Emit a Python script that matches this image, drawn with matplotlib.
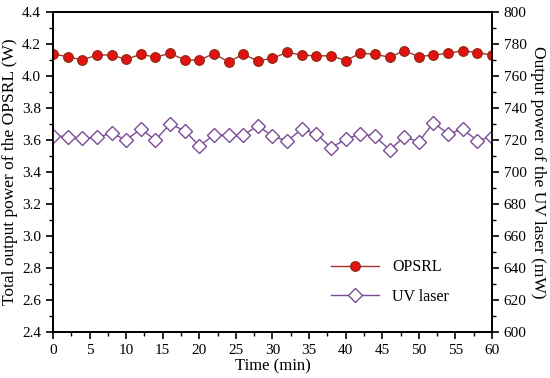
import numpy as np
import matplotlib
matplotlib.use("Agg")
import matplotlib.pyplot as plt
from matplotlib.ticker import MultipleLocator

plt.rcParams['font.family'] = ['Liberation Serif', 'DejaVu Serif']

# time in minutes
time_min = np.arange(0, 61, 2)

# OPSRL total output power (W)
opsrl_w = [4.137, 4.121, 4.100, 4.131, 4.131, 4.104, 4.136, 4.117, 4.142, 4.100,
           4.100, 4.139, 4.088, 4.136, 4.094, 4.111, 4.148, 4.131, 4.125, 4.127,
           4.096, 4.142, 4.136, 4.117, 4.158, 4.121, 4.131, 4.142, 4.158, 4.146,
           4.131]

# UV laser output power (mW)
uv_mw = [722.5, 722.1, 721.1, 721.7, 724.2, 720.0, 726.9, 720.0, 730.0, 725.8,
         716.3, 723.1, 723.1, 723.1, 728.8, 722.5, 719.4, 726.7, 723.8, 715.2,
         720.4, 723.8, 722.5, 713.8, 721.9, 718.9, 730.8, 723.8, 726.7, 719.6,
         722.1]

fig = plt.figure(figsize=(5.5, 3.78), dpi=100)
ax = fig.add_axes([0.0964, 0.1217, 0.7981, 0.8466])
ax2 = ax.twinx()

l1, = ax.plot(time_min, opsrl_w, '-o', color='#a8322a', lw=1.0,
              markersize=7, markerfacecolor='#e01212', markeredgecolor='#8a2a10',
              markeredgewidth=0.8, label='OPSRL', zorder=3)
l2, = ax2.plot(time_min, uv_mw, '-D', color='#7a4c96', lw=1.0,
               markersize=7, markerfacecolor='white', markeredgecolor='#7a4c96',
               markeredgewidth=1.0, label='UV laser')

ax.set_xlim(0, 60)
ax.set_ylim(2.4, 4.4)
ax2.set_ylim(600, 800)

ax.xaxis.set_major_locator(MultipleLocator(5))
ax.xaxis.set_minor_locator(MultipleLocator(2.5))
ax.yaxis.set_major_locator(MultipleLocator(0.2))
ax.yaxis.set_minor_locator(MultipleLocator(0.1))
ax2.yaxis.set_major_locator(MultipleLocator(20))
ax2.yaxis.set_minor_locator(MultipleLocator(10))
ax.yaxis.set_major_formatter(matplotlib.ticker.FormatStrFormatter('%.1f'))

for a in (ax, ax2):
    a.tick_params(which='major', direction='out', length=5, width=1.2, labelsize=11)
    a.tick_params(which='minor', direction='out', length=3, width=1.0)
    for s in a.spines.values():
        s.set_linewidth(1.3)
ax.tick_params(axis='x', top=False)

ax.set_xlabel('Time (min)', fontsize=12, labelpad=1)
ax.set_ylabel('Total output power of the OPSRL (W)', fontsize=12.5, labelpad=3)
ax2.set_ylabel('Output power of the UV laser (mW)', fontsize=12.5, rotation=270, labelpad=14)

ax.legend([l1, l2], ['OPSRL', 'UV laser'], loc='lower right',
          bbox_to_anchor=(0.935, 0.04), frameon=False, fontsize=11.5,
          handlelength=3.0, labelspacing=0.85, borderaxespad=0.5)

fig.savefig('out.png', dpi=100)
